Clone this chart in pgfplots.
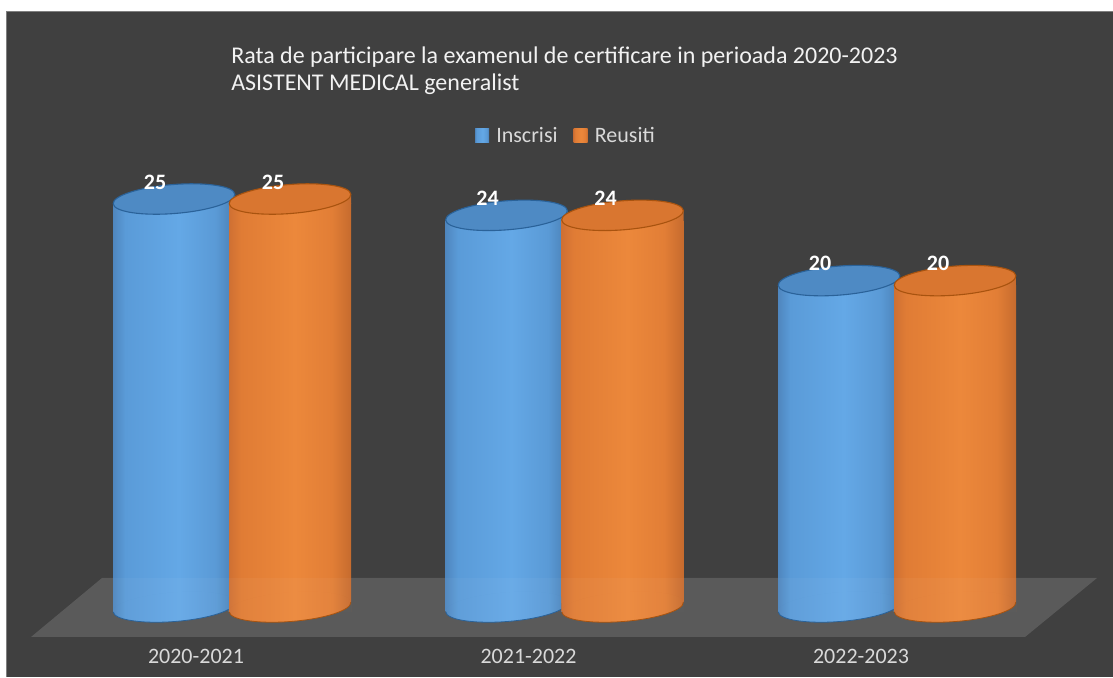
\documentclass[border=0pt]{standalone}
\usepackage{fontspec}
\setmainfont{Carlito}
\usepackage{pgfplots}
\pgfplotsset{compat=1.18}
\usepackage{pgfplotstable}
\definecolor{bgc}{HTML}{404040}
\definecolor{floorc}{HTML}{545454}
\definecolor{floorm}{HTML}{5B5B5B}
\definecolor{framec}{HTML}{7F7F7F}
\definecolor{b0}{HTML}{4F86BE}
\definecolor{b1}{HTML}{5A9BD8}
\definecolor{b2}{HTML}{64A8E6}
\definecolor{b3}{HTML}{5A9AD6}
\definecolor{b4}{HTML}{4A7FB4}
\definecolor{o0}{HTML}{CF7033}
\definecolor{o1}{HTML}{E07C35}
\definecolor{o2}{HTML}{EC883B}
\definecolor{o3}{HTML}{E27E36}
\definecolor{o4}{HTML}{C66B2E}
\definecolor{capb}{HTML}{4E8AC4}
\definecolor{capo}{HTML}{D97630}
\definecolor{edgeb}{HTML}{2A6299}
\definecolor{edgeo}{HTML}{A8530F}
\pgfdeclarehorizontalshading{cylb}{100bp}{color(0bp)=(b0); color(25bp)=(b0); color(30bp)=(b1); color(52bp)=(b2); color(67bp)=(b3); color(75bp)=(b4); color(100bp)=(b4)}
\pgfdeclarehorizontalshading{cylo}{100bp}{color(0bp)=(o0); color(25bp)=(o0); color(30bp)=(o1); color(52bp)=(o2); color(67bp)=(o3); color(75bp)=(o4); color(100bp)=(o4)}
\pgfdeclarehorizontalshading{boxb}{44pt}{color(0pt)=(b0); color(12.2pt)=(b1); color(66pt)=(b2); color(103pt)=(b3); color(122pt)=(b4)}
\pgfdeclarehorizontalshading{boxo}{44pt}{color(0pt)=(o0); color(12.2pt)=(o1); color(66pt)=(o2); color(103pt)=(o3); color(122pt)=(o4)}
% #1 mark prefix, #2 x offset of the bar from the tick, #3 box shading, #4 cap colour, #5 edge colour, #6 visible width of the base
\newcommand\defcyl[6]{%
  \pgfdeclareplotmark{#1top}{%
    \begin{pgfscope}\pgftransformxshift{#2}%
      \begin{pgfscope}
      \pgfpathmoveto{\pgfqpoint{-61pt}{0pt}}\pgfpathlineto{\pgfqpoint{61pt}{0pt}}\pgfpathlineto{\pgfqpoint{61pt}{9.6pt}}\pgfpathclose
      \pgfusepath{clip}%
      \pgflowlevelsynccm\pgfuseshading{#3}%
      \end{pgfscope}
      \pgfsetfillcolor{#4}\pgfsetstrokecolor{#5}\pgfsetlinewidth{1.1pt}%
      \pgfpathellipse{\pgfqpoint{0pt}{4.79pt}}{\pgfqpoint{60.81pt}{4.79pt}}{\pgfqpoint{-1.14pt}{14.45pt}}%
      \pgfusepath{fill,stroke}%
    \end{pgfscope}}%
  \pgfdeclareplotmark{#1base}{%
    \begin{pgfscope}\pgftransformxshift{#2}%
      \pgfpathrectangle{\pgfqpoint{-70pt}{-30pt}}{\pgfqpoint{#6}{60pt}}\pgfusepath{clip}%
      \pgfsetfillcolor{floorm}%
      \pgfpathmoveto{\pgfqpoint{10pt}{-0.4pt}}\pgfpathlineto{\pgfqpoint{61.6pt}{-0.4pt}}\pgfpathlineto{\pgfqpoint{61.6pt}{10pt}}\pgfpathclose
      \pgfusepath{fill}%
      \begin{pgfscope}
      \pgfpathellipse{\pgfqpoint{0pt}{4.79pt}}{\pgfqpoint{60.81pt}{4.79pt}}{\pgfqpoint{-1.14pt}{14.45pt}}%
      \pgfusepath{clip}%
      \pgflowlevelsynccm\pgfuseshading{#3}%
      \end{pgfscope}
      \begin{pgfscope}
      \pgfsetfillcolor{white}\pgfsetfillopacity{0.04}%
      \pgfpathellipse{\pgfqpoint{0pt}{4.79pt}}{\pgfqpoint{60.81pt}{4.79pt}}{\pgfqpoint{-1.14pt}{14.45pt}}%
      \pgfusepath{fill}%
      \end{pgfscope}
      \pgfsetstrokecolor{#5}\pgfsetlinewidth{0.8pt}%
      \pgfpathmoveto{\pgfqpoint{-60.81pt}{0pt}}%
      \pgfpatharcaxes{180}{360}{\pgfqpoint{60.81pt}{4.79pt}}{\pgfqpoint{-1.14pt}{14.45pt}}%
      \pgfusepath{stroke}%
    \end{pgfscope}}}
\defcyl{bl}{-22pt}{boxb}{capb}{edgeb}{124.5pt}
\defcyl{or}{94pt}{boxo}{capo}{edgeo}{140pt}
\pgfplotstableread{
x inscrisi reusiti zero
0 25 25 0
1 24 24 0
2 20 20 0
}\data
\begin{document}
\begin{tikzpicture}
\useasboundingbox (0,0) rectangle (1113pt,677pt);
\fill[framec] (5.5pt,0) rectangle (1113pt,665.5pt);
\fill[bgc] (6.5pt,0) rectangle (1113pt,664.5pt);
\fill[floorc] (31pt,40pt) -- (1025pt,40pt) -- (1097pt,99pt) -- (102pt,99pt) -- cycle;
\begin{axis}[
  width=1113pt, height=677pt, scale only axis,
  xmin=-0.58947, xmax=2.75789, ymin=-3.995, ymax=37.488,
  axis line style={draw=none}, tick style={draw=none},
  xtick={0,1,2}, xticklabels={2020-2021,2021-2022,2022-2023},
  ytick=\empty,
  /pgf/number format/assume math mode=true,
  xticklabel style={font=\fontsize{22}{26}\selectfont, text=black!15, anchor=center, yshift=21pt},
  title={Rata de participare la examenul de certificare in perioada 2020-2023\\ASISTENT MEDICAL generalist},
  title style={at={(rel axis cs:0.2076,0.9228)}, anchor=north west, align=left, inner sep=0pt,
    font=\fontsize{24}{27.5}\selectfont, text=black!5},
  legend style={at={(rel axis cs:0.5085,0.8)}, anchor=center, draw=none, fill=none,
    legend columns=2, font=\fontsize{22}{26}\selectfont, text=black!15,
    /tikz/every even column/.append style={column sep=14pt}},
  bar width=122pt,
]
\addlegendimage{legend image code/.code={\shade[shading=cylb,draw=none] (0pt,-7pt) rectangle (14pt,7pt); \path (19pt,0pt);}}
\addlegendentry{Inscrisi}
\addlegendimage{legend image code/.code={\shade[shading=cylo,draw=none] (0pt,-7pt) rectangle (14pt,7pt); \path (19pt,0pt);}}
\addlegendentry{Reusiti}
% blue cylinders
\addplot[forget plot, ybar, bar shift=-22pt, draw=none, shading=cylb] table[x=x,y=inscrisi] {
x inscrisi
0 25
};
\addplot[forget plot, ybar, bar shift=-22pt, draw=none, shading=cylb] table[x=x,y=inscrisi] {
x inscrisi
1 24
};
\addplot[forget plot, ybar, bar shift=-22pt, draw=none, shading=cylb] table[x=x,y=inscrisi] {
x inscrisi
2 20
};
\addplot[forget plot, only marks, mark=blbase] table[x=x,y=zero] {\data};
\addplot[forget plot, only marks, mark=bltop] table[x=x,y=inscrisi] {\data};
% orange cylinders
\addplot[forget plot, ybar, bar shift=94pt, draw=none, shading=cylo] table[x=x,y=reusiti] {
x reusiti
0 25
};
\addplot[forget plot, ybar, bar shift=94pt, draw=none, shading=cylo] table[x=x,y=reusiti] {
x reusiti
1 24
};
\addplot[forget plot, ybar, bar shift=94pt, draw=none, shading=cylo] table[x=x,y=reusiti] {
x reusiti
2 20
};
\addplot[forget plot, only marks, mark=orbase] table[x=x,y=zero] {\data};
\addplot[forget plot, only marks, mark=ortop] table[x=x,y=reusiti] {\data};
% translucent floor over the cylinders
\fill[white,opacity=0.04] (rel axis cs:0.02785,0.05908) -- (rel axis cs:0.92093,0.05908) -- (rel axis cs:0.98562,0.14623) -- (rel axis cs:0.09164,0.14623) -- cycle;
% data labels
\addplot[forget plot, only marks, mark=none, draw=none, nodes near coords, point meta=y,
   nodes near coords style={font=\fontsize{22}{26}\selectfont\bfseries, text=white, anchor=center, inner sep=0pt, yshift=21.8pt, xshift=-41pt}] table[x=x,y=inscrisi] {\data};
\addplot[forget plot, only marks, mark=none, draw=none, nodes near coords, point meta=y,
   nodes near coords style={font=\fontsize{22}{26}\selectfont\bfseries, text=white, anchor=center, inner sep=0pt, yshift=21.8pt, xshift=77pt}] table[x=x,y=reusiti] {\data};
\end{axis}
\end{tikzpicture}
\end{document}
